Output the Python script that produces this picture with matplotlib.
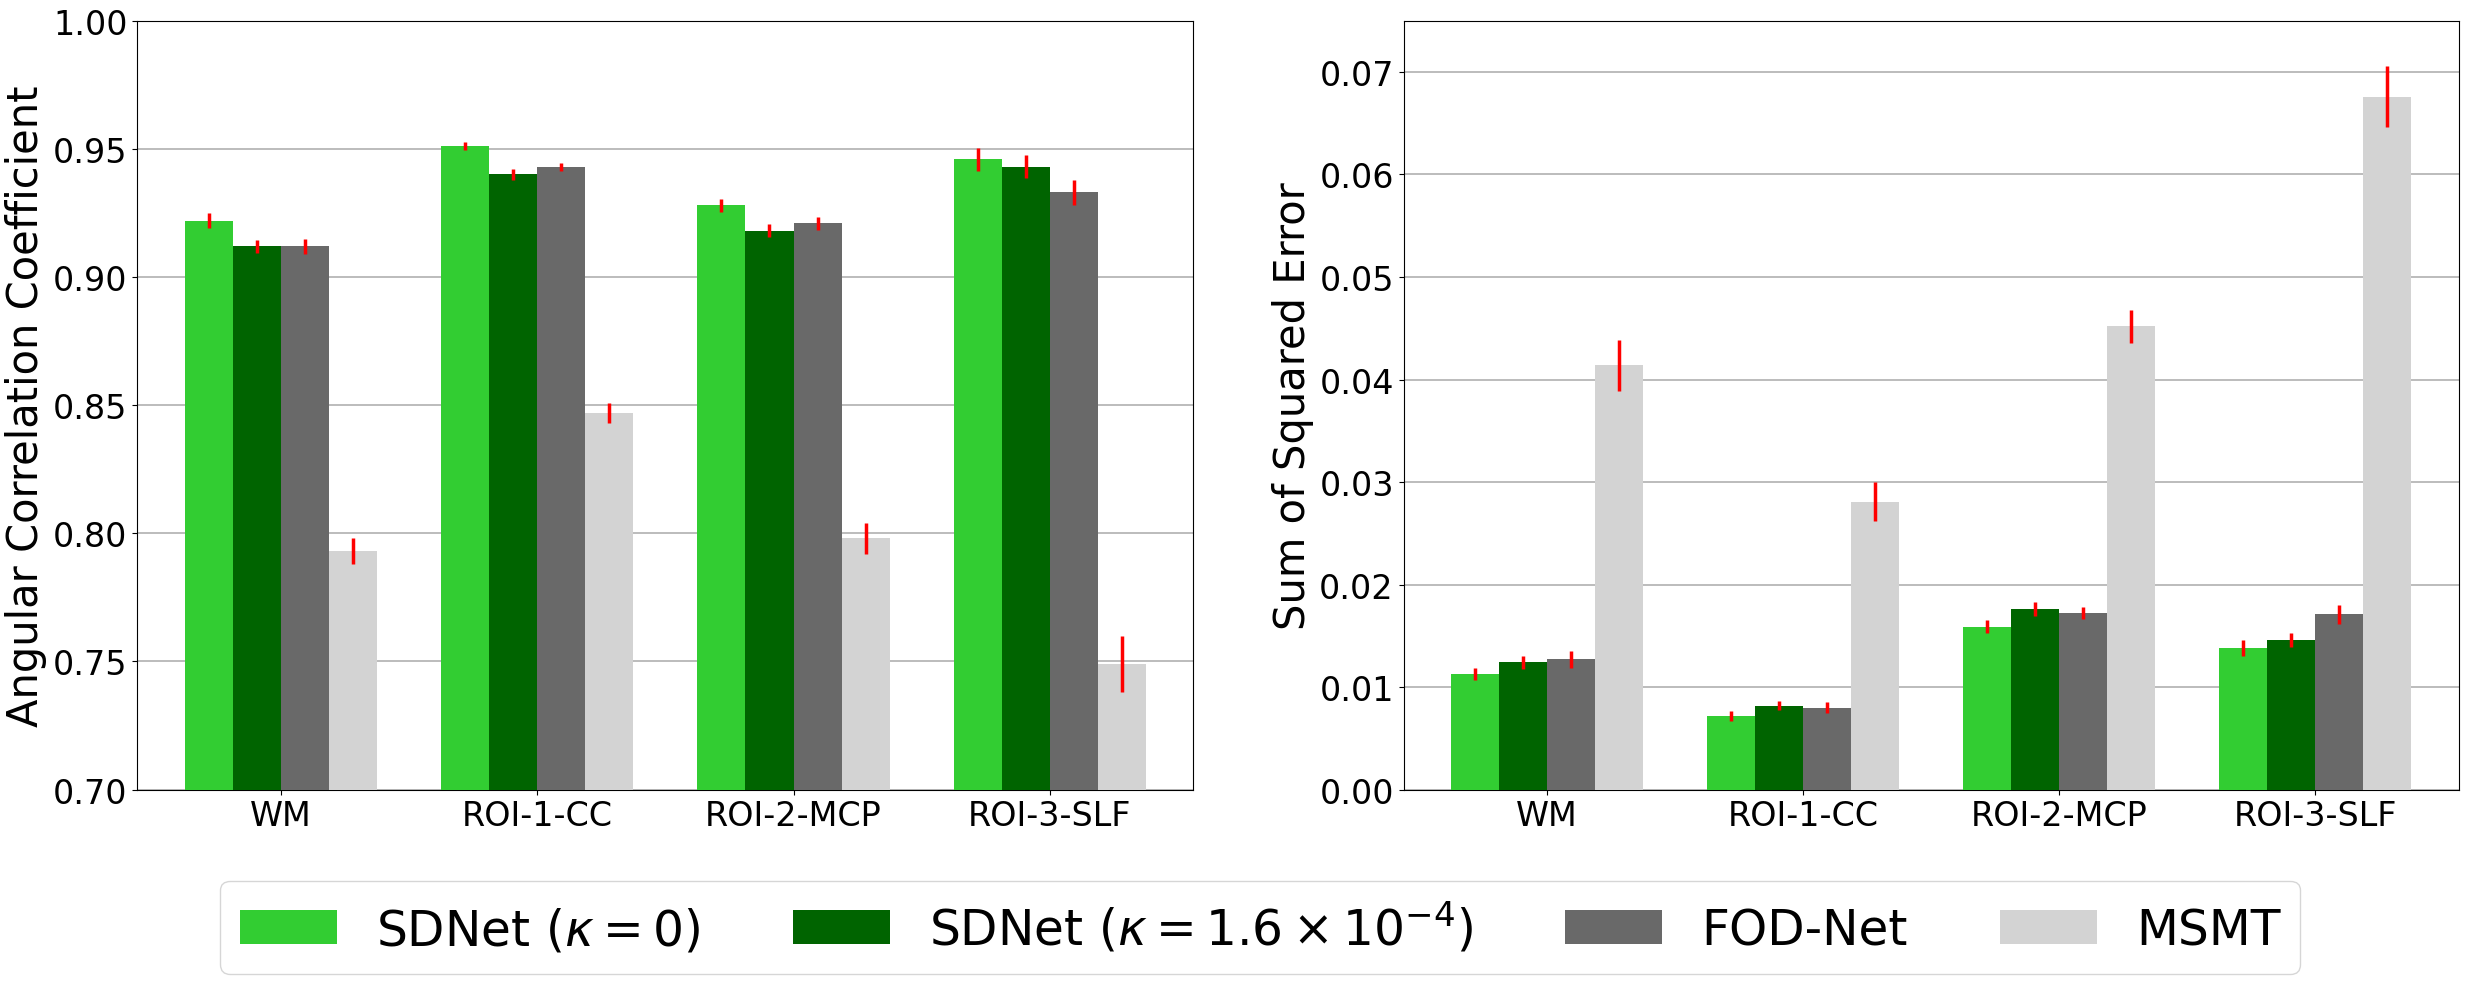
import numpy as np
import matplotlib.pyplot as plt

regions = ['WM', 'ROI-1-CC', 'ROI-2-MCP', 'ROI-3-SLF']
methods = [r'SDNet ($\kappa=0$)', r'SDNet ($\kappa=1.6\times10^{-4}$)', 'FOD-Net', 'MSMT']
colors = ['limegreen', 'darkgreen', 'dimgray', 'lightgray']

# angular correlation coefficient (mean, std) per method, per region
acc_sdnet0 = [0.922, 0.951, 0.928, 0.946]
acc_sdnet_k = [0.912, 0.940, 0.918, 0.943]
acc_fodnet = [0.912, 0.943, 0.921, 0.933]
acc_msmt = [0.793, 0.847, 0.798, 0.749]
acc_err_sdnet0 = [0.003, 0.0015, 0.0025, 0.0045]
acc_err_sdnet_k = [0.0025, 0.002, 0.0025, 0.0045]
acc_err_fodnet = [0.003, 0.0015, 0.0025, 0.005]
acc_err_msmt = [0.005, 0.004, 0.006, 0.011]

# sum of squared error
sse_sdnet0 = [0.0113, 0.0072, 0.0159, 0.0138]
sse_sdnet_k = [0.0124, 0.0082, 0.0176, 0.0146]
sse_fodnet = [0.0127, 0.0080, 0.0172, 0.0171]
sse_msmt = [0.0414, 0.0281, 0.0452, 0.0676]
sse_err_sdnet0 = [0.0006, 0.0005, 0.0006, 0.0008]
sse_err_sdnet_k = [0.0006, 0.0004, 0.0007, 0.0007]
sse_err_fodnet = [0.0008, 0.0005, 0.0006, 0.0009]
sse_err_msmt = [0.0025, 0.0019, 0.0016, 0.0030]

acc = [acc_sdnet0, acc_sdnet_k, acc_fodnet, acc_msmt]
acc_err = [acc_err_sdnet0, acc_err_sdnet_k, acc_err_fodnet, acc_err_msmt]
sse = [sse_sdnet0, sse_sdnet_k, sse_fodnet, sse_msmt]
sse_err = [sse_err_sdnet0, sse_err_sdnet_k, sse_err_fodnet, sse_err_msmt]

fig = plt.figure(figsize=(24.71, 9.87), dpi=100)
ax1 = fig.add_axes([0.0555, 0.199, 0.4275, 0.779])
ax2 = fig.add_axes([0.568, 0.199, 0.427, 0.779])

x = np.arange(len(regions))
w = 0.1875


def draw(ax, vals, errs, ylabel, ylim, ticks):
    for i in range(4):
        ax.bar(x + (i - 1.5) * w, vals[i], w, color=colors[i], label=methods[i],
               yerr=errs[i], ecolor='red', error_kw={'elinewidth': 2.5, 'capsize': 0},
               zorder=3)
    ax.set_xticks(x)
    ax.set_xticklabels(regions, fontsize=24)
    ax.set_ylim(*ylim)
    ax.set_yticks(ticks)
    ax.tick_params(axis='y', labelsize=24)
    ax.set_ylabel(ylabel, fontsize=30)
    ax.grid(axis='y', color='#b0b0b0', linewidth=1.2, zorder=0)
    ax.set_xlim(-0.56, 3.56)


draw(ax1, acc, acc_err, 'Angular Correlation Coefficient', (0.70, 1.00),
     np.arange(0.70, 1.001, 0.05))
ax1.yaxis.set_major_formatter(plt.FormatStrFormatter('%.2f'))
draw(ax2, sse, sse_err, 'Sum of Squared Error', (0, 0.075),
     np.arange(0, 0.0701, 0.01))
ax2.yaxis.set_major_formatter(plt.FormatStrFormatter('%.2f'))

handles, labels = ax1.get_legend_handles_labels()
fig.legend(handles, labels, loc='lower center', ncol=4, fontsize=35,
           bbox_to_anchor=(0.51, -0.012), handlelength=2, columnspacing=1.9)

fig.savefig('out.png')
